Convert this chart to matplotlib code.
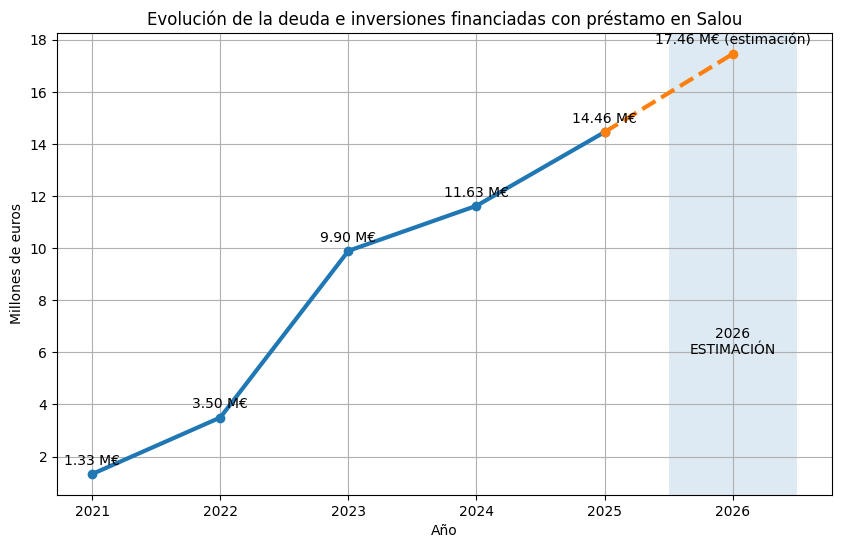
import matplotlib
matplotlib.use('Agg')
import matplotlib.pyplot as plt

# datos
anios = [2021, 2022, 2023, 2024, 2025]
deuda = [1.33, 3.50, 9.90, 11.63, 14.46]
anios_est = [2025, 2026]
deuda_est = [14.46, 17.46]

fig, ax = plt.subplots(figsize=(8.42, 5.48), dpi=100)
fig.subplots_adjust(left=0.0677, right=0.988, top=0.9398, bottom=0.0967)

ax.plot(anios, deuda, marker='o', linewidth=3, color='#1f77b4')
ax.plot(anios_est, deuda_est, marker='o', linestyle='--', linewidth=3, color='#ff7f0e')

for x, y in zip(anios, deuda):
    ax.annotate(f'{y:.2f} M€', (x, y), textcoords='offset points', xytext=(0, 6.5), ha='center')
ax.annotate(f'{deuda_est[-1]:.2f} M€ (estimación)', (anios_est[-1], deuda_est[-1]),
            textcoords='offset points', xytext=(0, 6.5), ha='center')

ax.axvspan(2025.5, 2026.5, alpha=0.15, color='#1f77b4', linewidth=0)
ax.text(2026, 6.4, '2026\nESTIMACIÓN', ha='center', va='center')

ax.set_xticks(anios + [2026])
ax.set_title('Evolución de la deuda e inversiones financiadas con préstamo en Salou')
ax.set_xlabel('Año')
ax.set_ylabel('Millones de euros')
ax.grid(True)

fig.savefig('out.png')
